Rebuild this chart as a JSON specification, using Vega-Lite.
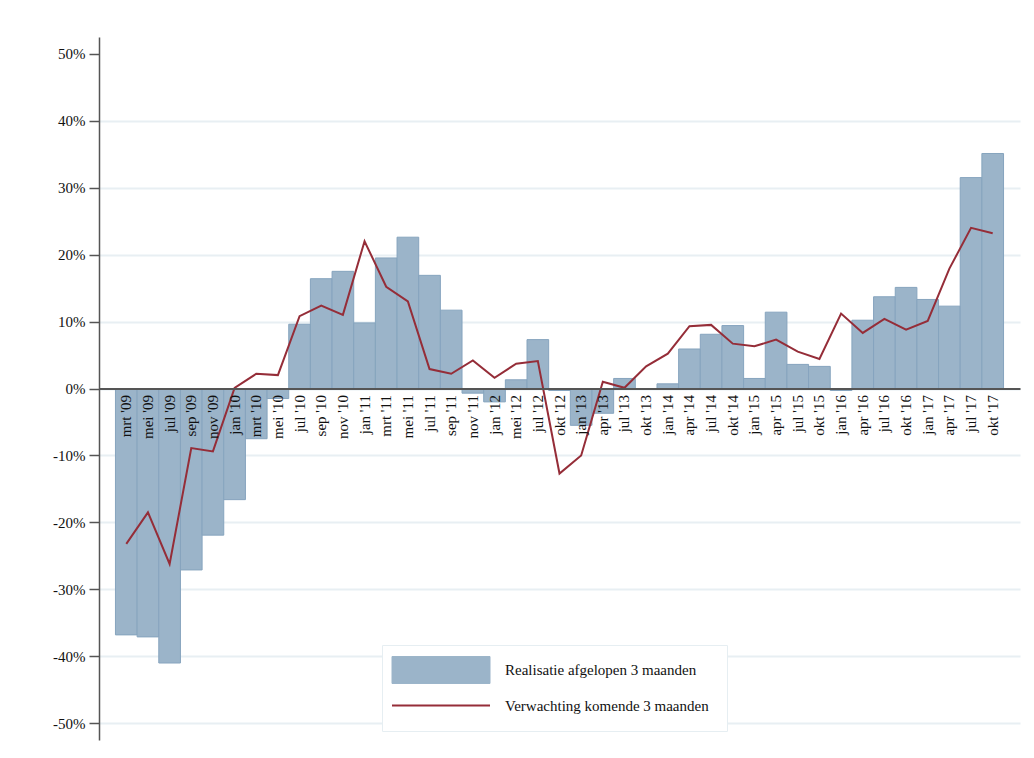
{
  "$schema": "https://vega.github.io/schema/vega-lite/v6.json",
  "width": 921,
  "height": 703,
  "autosize": {"type": "none"},
  "padding": {"left": 99, "top": 37, "right": 14, "bottom": 18},
  "background": "white",
  "config": {"view": {"stroke": null}, "font": "Liberation Serif"},
  "data": {
    "values": [
      {"maand": "mrt '09", "realisatie": -36.8, "verwachting": -23.2},
      {"maand": "mei '09", "realisatie": -37.1, "verwachting": -18.5},
      {"maand": "jul '09", "realisatie": -41.0, "verwachting": -26.2},
      {"maand": "sep '09", "realisatie": -27.1, "verwachting": -8.9},
      {"maand": "nov '09", "realisatie": -21.9, "verwachting": -9.4},
      {"maand": "jan '10", "realisatie": -16.6, "verwachting": 0.1},
      {"maand": "mrt '10", "realisatie": -7.5, "verwachting": 2.2},
      {"maand": "mei '10", "realisatie": -1.5, "verwachting": 2.0},
      {"maand": "jul '10", "realisatie": 9.6, "verwachting": 10.8},
      {"maand": "sep '10", "realisatie": 16.4, "verwachting": 12.4},
      {"maand": "nov '10", "realisatie": 17.5, "verwachting": 11.0},
      {"maand": "jan '11", "realisatie": 9.8, "verwachting": 22.0},
      {"maand": "mrt '11", "realisatie": 19.5, "verwachting": 15.2},
      {"maand": "mei '11", "realisatie": 22.6, "verwachting": 13.0},
      {"maand": "jul '11", "realisatie": 16.9, "verwachting": 2.9},
      {"maand": "sep '11", "realisatie": 11.7, "verwachting": 2.2},
      {"maand": "nov '11", "realisatie": -0.7, "verwachting": 4.2},
      {"maand": "jan '12", "realisatie": -2.0, "verwachting": 1.6},
      {"maand": "mei '12", "realisatie": 1.3, "verwachting": 3.7},
      {"maand": "jul '12", "realisatie": 7.3, "verwachting": 4.1},
      {"maand": "okt '12", "realisatie": -0.3, "verwachting": -12.7},
      {"maand": "jan '13", "realisatie": -5.5, "verwachting": -10.0},
      {"maand": "apr '13", "realisatie": -3.7, "verwachting": 1.0},
      {"maand": "jul '13", "realisatie": 1.5, "verwachting": 0.1},
      {"maand": "okt '13", "realisatie": 0.0, "verwachting": 3.3},
      {"maand": "jan '14", "realisatie": 0.7, "verwachting": 5.2},
      {"maand": "apr '14", "realisatie": 5.9, "verwachting": 9.3},
      {"maand": "jul '14", "realisatie": 8.1, "verwachting": 9.5},
      {"maand": "okt '14", "realisatie": 9.4, "verwachting": 6.7},
      {"maand": "jan '15", "realisatie": 1.5, "verwachting": 6.3},
      {"maand": "apr '15", "realisatie": 11.4, "verwachting": 7.3},
      {"maand": "jul '15", "realisatie": 3.6, "verwachting": 5.5},
      {"maand": "okt '15", "realisatie": 3.3, "verwachting": 4.4},
      {"maand": "jan '16", "realisatie": -0.3, "verwachting": 11.2},
      {"maand": "apr '16", "realisatie": 10.2, "verwachting": 8.3},
      {"maand": "jul '16", "realisatie": 13.7, "verwachting": 10.4},
      {"maand": "okt '16", "realisatie": 15.1, "verwachting": 8.8},
      {"maand": "jan '17", "realisatie": 13.3, "verwachting": 10.1},
      {"maand": "apr '17", "realisatie": 12.3, "verwachting": 17.9},
      {"maand": "jul '17", "realisatie": 31.5, "verwachting": 24.0},
      {"maand": "okt '17", "realisatie": 35.1, "verwachting": 23.2}
    ]
  },
  "encoding": {
    "x": {
      "field": "maand",
      "type": "nominal",
      "sort": null,
      "scale": {"paddingInner": 0, "paddingOuter": 0.76},
      "axis": {
        "title": null,
        "orient": "bottom",
        "offset": -351.5,
        "labelAngle": -90,
        "labelAlign": "right",
        "labelBaseline": "middle",
        "ticks": false,
        "labelPadding": 6,
        "labelFont": "Liberation Serif",
        "labelFontSize": 15,
        "labelColor": "#111111",
        "labelOverlap": false,
        "domainColor": "#555555",
        "domainWidth": 2,
        "grid": false,
        "zindex": 1
      }
    }
  },
  "layer": [
    {
      "mark": {"type": "bar", "stroke": "#86a4be", "strokeWidth": 1},
      "encoding": {
        "y": {
          "field": "realisatie",
          "type": "quantitative",
          "stack": null,
          "scale": {"domain": [-52.5, 52.5], "nice": false, "zero": false},
          "axis": {
            "title": null,
            "values": [-50, -40, -30, -20, -10, 0, 10, 20, 30, 40, 50],
            "labelExpr": "datum.value + '%'",
            "labelFont": "Liberation Serif",
            "labelFontSize": 15,
            "labelColor": "#111111",
            "labelPadding": 4,
            "tickSize": 10,
            "tickColor": "#555555",
            "tickWidth": 1.5,
            "domainColor": "#555555",
            "domainWidth": 1.5,
            "gridColor": "#e8eff3",
            "gridWidth": 2,
            "gridOpacity": {"condition": {"test": "datum.value === 50", "value": 0}, "value": 1}
          }
        },
        "color": {
          "datum": "Realisatie afgelopen 3 maanden",
          "scale": {
            "domain": ["Realisatie afgelopen 3 maanden", "Verwachting komende 3 maanden"],
            "range": ["#9bb4c9", "#952d38"]
          },
          "legend": {
            "title": null,
            "orient": "none",
            "legendX": 283,
            "legendY": 608,
            "padding": 17.5,
            "strokeColor": "#e6eef2",
            "fillColor": "white",
            "symbolSize": 729,
            "symbolType": "M-1,-0.275H1V0.275H-1Z",
            "symbolOpacity": 1,
            "labelFont": "Liberation Serif",
            "labelFontSize": 15,
            "labelColor": "#111111",
            "labelOffset": 15,
            "labelLimit": 400,
            "rowPadding": 12.5,
            "encode": {
              "symbols": {
                "update": {
                  "x": {"value": 41.5},
                  "size": {"value": 9604},
                  "shape": {"signal": "datum.value === 'Verwachting komende 3 maanden' ? 'M-1,0H1' : 'M-1,-0.275H1V0.275H-1Z'"},
                  "fill": {"signal": "datum.value === 'Verwachting komende 3 maanden' ? 'transparent' : '#9bb4c9'"},
                  "stroke": {"signal": "datum.value === 'Verwachting komende 3 maanden' ? '#952d38' : '#86a4be'"},
                  "strokeWidth": {"signal": "datum.value === 'Verwachting komende 3 maanden' ? 2 : 1"},
                  "opacity": {"value": 1}
                }
              },
              "labels": {
                "update": {
                  "x": {"value": 105.5}
                }
              }
            }
          }
        }
      }
    },
    {
      "mark": {"type": "line", "strokeWidth": 2},
      "encoding": {
        "y": {"field": "verwachting", "type": "quantitative"},
        "color": {
          "datum": "Verwachting komende 3 maanden",
          "legend": {
            "title": null,
            "orient": "none",
            "legendX": 283,
            "legendY": 608,
            "padding": 17.5,
            "strokeColor": "#e6eef2",
            "fillColor": "white",
            "symbolSize": 729,
            "symbolType": "M-1,-0.275H1V0.275H-1Z",
            "symbolOpacity": 1,
            "labelFont": "Liberation Serif",
            "labelFontSize": 15,
            "labelColor": "#111111",
            "labelOffset": 15,
            "labelLimit": 400,
            "rowPadding": 12.5,
            "encode": {
              "symbols": {
                "update": {
                  "x": {"value": 41.5},
                  "size": {"value": 9604},
                  "shape": {"signal": "datum.value === 'Verwachting komende 3 maanden' ? 'M-1,0H1' : 'M-1,-0.275H1V0.275H-1Z'"},
                  "fill": {"signal": "datum.value === 'Verwachting komende 3 maanden' ? 'transparent' : '#9bb4c9'"},
                  "stroke": {"signal": "datum.value === 'Verwachting komende 3 maanden' ? '#952d38' : '#86a4be'"},
                  "strokeWidth": {"signal": "datum.value === 'Verwachting komende 3 maanden' ? 2 : 1"},
                  "opacity": {"value": 1}
                }
              },
              "labels": {
                "update": {
                  "x": {"value": 105.5}
                }
              }
            }
          }
        }
      }
    }
  ]
}
